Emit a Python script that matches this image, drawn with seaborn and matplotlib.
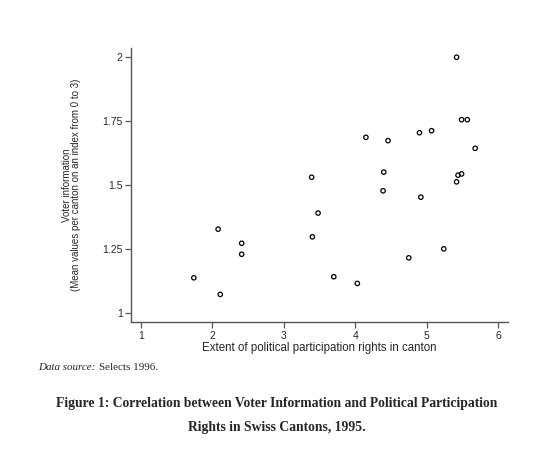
import matplotlib
matplotlib.use("Agg")
import matplotlib.pyplot as plt
import seaborn as sns
import pandas as pd

# Cantonal values (26 cantons)
participation_rights = [5.42, 5.49, 5.57, 4.15, 4.46, 4.90, 5.07, 5.68, 3.39, 4.40,
                        5.44, 5.49, 5.42, 4.39, 4.92, 3.48, 2.08, 3.40, 2.41, 2.41,
                        5.24, 4.75, 1.74, 3.70, 4.03, 2.11]
voter_information = [2.00, 1.756, 1.756, 1.687, 1.674, 1.705, 1.713, 1.644, 1.531, 1.551,
                     1.539, 1.544, 1.513, 1.478, 1.453, 1.391, 1.328, 1.298, 1.273, 1.230,
                     1.251, 1.216, 1.138, 1.142, 1.116, 1.073]

x_ticks = [1, 2, 3, 4, 5, 6]
y_ticks = [1, 1.25, 1.5, 1.75, 2]
y_tick_labels = ["1", "1.25", "1.5", "1.75", "2"]

df = pd.DataFrame({"rights": participation_rights, "info": voter_information})

sns.set_style("white")
plt.rcParams["font.family"] = ["Liberation Sans", "DejaVu Sans"]

fig = plt.figure(figsize=(5.54, 4.49), dpi=100)
ax = fig.add_axes([131 / 554, 1 - 322.3 / 449, 377 / 554, 274 / 449])

sns.scatterplot(data=df, x="rights", y="info", ax=ax, marker="o",
                facecolor="none", edgecolor="black", linewidth=0.9, s=10)

ax.set_xlim(0.86, 6.14)
ax.set_ylim(0.964, 2.035)
ax.set_xticks(x_ticks)
ax.set_yticks(y_ticks)
ax.set_yticklabels(y_tick_labels)

for side in ["top", "right"]:
    ax.spines[side].set_visible(False)
for side in ["left", "bottom"]:
    ax.spines[side].set_color("#555555")
    ax.spines[side].set_linewidth(1.0)
ax.tick_params(axis="both", direction="out", length=4, width=0.9, color="#555555",
               labelsize=7.5, pad=2, left=True, bottom=True)

ax.set_xlabel("Extent of political participation rights in canton", fontsize=8.3, labelpad=1)
ax.set_ylabel("Voter information\n(Mean values per canton on an index from 0 to 3)",
              fontsize=7, labelpad=15, linespacing=0.9)

# caption below the graph
src = fig.text(38 / 554, 1 - 368 / 449, "Data source:", fontsize=7.9, style="italic",
               family="Liberation Serif", va="center", ha="left")
ax.annotate("Selects 1996.", xy=(1, 0.5), xycoords=src, xytext=(2.5, 0),
            textcoords="offset points", fontsize=7.9, family="Liberation Serif",
            va="center", ha="left", annotation_clip=False)
fig.text(0.5, 1 - 404 / 449,
         "Figure 1: Correlation between Voter Information and Political Participation",
         fontsize=9.8, weight="bold", family="Liberation Serif", ha="center", va="center")
fig.text(0.5, 1 - 427 / 449, "Rights in Swiss Cantons, 1995.",
         fontsize=9.8, weight="bold", family="Liberation Serif", ha="center", va="center")

fig.savefig("out.png", dpi=100)
